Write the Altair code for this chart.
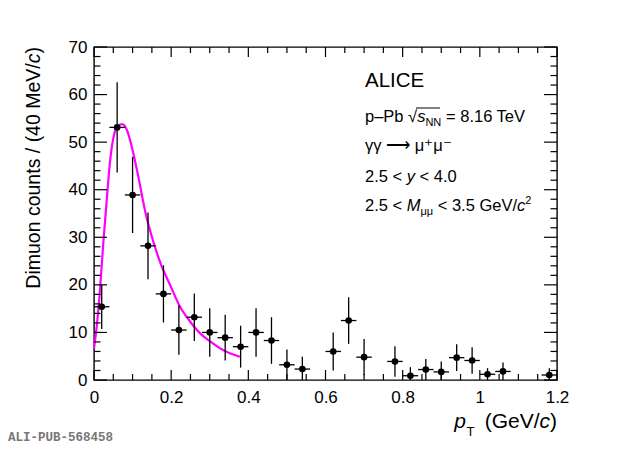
import altair as alt
import pandas as pd

# ---- data ----
pt = [0.02, 0.06, 0.10, 0.14, 0.18, 0.22, 0.26, 0.30, 0.34, 0.38, 0.42, 0.46, 0.50, 0.54,
      0.62, 0.66, 0.70, 0.78, 0.82, 0.86, 0.90, 0.94, 0.98, 1.02, 1.06, 1.18]
counts = [15.4, 53.1, 38.9, 28.2, 18.1, 10.5, 13.2, 10.0, 8.9, 7.0, 10.0, 8.3, 3.2, 2.3,
          6.0, 12.5, 4.8, 3.9, 0.9, 2.2, 1.7, 4.7, 4.1, 1.2, 1.8, 1.05]
errs = [4.7, 9.5, 8.0, 7.0, 6.0, 5.2, 5.0, 5.1, 4.8, 4.4, 5.1, 4.9, 3.2, 2.6,
        4.0, 4.9, 3.8, 3.2, 1.8, 2.2, 2.2, 2.8, 2.8, 1.3, 1.9, 1.4]

curve_pt = [0.0, 0.007, 0.0155, 0.024, 0.033, 0.041, 0.050, 0.060, 0.073, 0.085, 0.098,
            0.115, 0.132, 0.154, 0.175, 0.197, 0.223, 0.249, 0.275, 0.301, 0.326, 0.352, 0.378]
curve_val = [6.6, 11.2, 18.9, 28.7, 37.8, 45.5, 50.8, 53.2, 53.8, 52.6, 49.0,
             42.7, 35.7, 29.0, 24.0, 20.0, 15.4, 12.3, 9.8, 8.1, 6.7, 5.6, 4.9]

x_major = [0, 0.2, 0.4, 0.6, 0.8, 1.0, 1.2]
x_minor = [0.05, 0.1, 0.15, 0.25, 0.3, 0.35, 0.45, 0.5, 0.55, 0.65, 0.7, 0.75,
           0.85, 0.9, 0.95, 1.05, 1.1, 1.15]
y_major = [0, 10, 20, 30, 40, 50, 60, 70]
y_minor = [2, 4, 6, 8, 12, 14, 16, 18, 22, 24, 26, 28, 32, 34, 36, 38, 42, 44, 46, 48,
           52, 54, 56, 58, 62, 64, 66, 68]

W, H = 463, 333
FONT = "Liberation Sans"

df = pd.DataFrame({"pt": pt, "n": counts, "err": errs})
df["lo"] = (df["n"] - df["err"]).clip(lower=0)
df["hi"] = df["n"] + df["err"]
df["xl"] = df["pt"] - 0.02
df["xr"] = df["pt"] + 0.02
cdf = pd.DataFrame({"pt": curve_pt, "v": curve_val})

xs = alt.Scale(domain=[0, 1.2], nice=False, zero=False)
ys = alt.Scale(domain=[0, 70], nice=False)
xaxis = alt.Axis(values=x_major, format="~g", title=None, ticks=False, domain=False, grid=False,
                 labelFont=FONT, labelFontSize=17, labelPadding=9, labelFlush=False,
                 labelColor="black", labelOverlap=False)
yaxis = alt.Axis(values=y_major, format="d", title=None, ticks=False, domain=False, grid=False,
                 labelFont=FONT, labelFontSize=17, labelPadding=7, labelFlush=False,
                 labelColor="black", labelOverlap=False)


def X(f):
    return alt.X(f, type="quantitative", scale=xs, axis=xaxis)


def Y(f):
    return alt.Y(f, type="quantitative", scale=ys, axis=yaxis)


base = alt.Chart(df)
vbar = base.mark_rule(color="black", strokeWidth=1.3).encode(x=X("pt"), y=Y("lo"), y2="hi")
hbar = base.mark_rule(color="black", strokeWidth=1.3).encode(x=X("xl"), x2="xr", y=Y("n"))
pts = base.mark_circle(color="black", opacity=1, size=44).encode(x=X("pt"), y=Y("n"))
curve = alt.Chart(cdf).mark_line(color="#ff00ff", strokeWidth=2.2, interpolate="monotone").encode(
    x=X("pt"), y=Y("v"))

ticks = []
for vals, ln in [(x_major, 10), (x_minor, 6)]:
    d = alt.Chart(pd.DataFrame({"t": vals}))
    ticks.append(d.mark_rule(color="black", strokeWidth=1.2).encode(
        x=X("t"), y=alt.value(H), y2=alt.value(H - ln)))
    ticks.append(d.mark_rule(color="black", strokeWidth=1.2).encode(
        x=X("t"), y=alt.value(0), y2=alt.value(ln)))
for vals, ln in [(y_major, 13), (y_minor, 6.5)]:
    d = alt.Chart(pd.DataFrame({"t": vals}))
    ticks.append(d.mark_rule(color="black", strokeWidth=1.2).encode(
        y=Y("t"), x=alt.value(0), x2=alt.value(ln)))
    ticks.append(d.mark_rule(color="black", strokeWidth=1.2).encode(
        y=Y("t"), x=alt.value(W), x2=alt.value(W - ln)))

one = pd.DataFrame({"a": [0]})


def txt(x, y, s, size, italic=False, align="left", angle=0, color="black", font=FONT, weight="normal"):
    kw = dict(align=align, baseline="alphabetic", fontSize=size, font=font, color=color,
              fontWeight=weight)
    if italic:
        kw["fontStyle"] = "italic"
    if angle:
        kw["angle"] = angle
    return alt.Chart(one).mark_text(**kw).encode(x=alt.value(x), y=alt.value(y), text=alt.value(s))


texts = [
    # y-axis title (rotated)
    txt(-54, 0, ")", 19.5, align="right", angle=270),
    txt(-54, 6.5, "c", 19.5, italic=True, align="right", angle=270),
    txt(-54, 16.25, "Dimuon counts / (40 MeV/", 19.5, align="right", angle=270),
    # x-axis title
    txt(372, 380.5, "p", 21, italic=True, align="right"),
    txt(372.5, 389, "T", 13),
    txt(445.6, 380.5, "(GeV/", 21, align="right"),
    txt(456, 380.5, "c", 21, italic=True, align="right"),
    txt(463, 380.5, ")", 21, align="right"),
    # legend block
    txt(271, 40, "ALICE", 20.5),
    txt(271, 75, "p\u2013Pb", 16.5),
    txt(314.1, 75, "\u221a", 16.5),
    txt(323.2, 75, "s", 16.5, italic=True),
    txt(331.4, 79, "NN", 11),
    txt(352, 75, "= 8.16 TeV", 16.5),
    txt(271, 104, "\u03b3\u03b3 \u27f6 \u03bc\u207a\u03bc\u207b", 16.5),
    txt(271, 135, "2.5 <", 16.5),
    txt(312.7, 135, "y", 16.5, italic=True),
    txt(325.6, 135, "< 4.0", 16.5),
    txt(271, 164, "2.5 <", 16.5),
    txt(312.7, 164, "M", 16.5, italic=True),
    txt(326.4, 168, "\u03bc\u03bc", 11),
    txt(343.7, 164, "< 3.5 GeV/", 16.5),
    txt(423, 164, "c", 16.5, italic=True),
    txt(431.3, 157, "2", 11),
    # footer
    txt(-86, 394, "ALI-PUB-568458", 12.5, color="#777777", font="Liberation Mono", weight="bold"),
]

overline = alt.Chart(one).mark_rule(color="black", strokeWidth=1).encode(
    x=alt.value(322), x2=alt.value(346), y=alt.value(61))

chart = alt.layer(curve, vbar, hbar, pts, *ticks, overline, *texts).properties(
    width=W, height=H,
    autosize=alt.AutoSizeParams(type="none"),
    padding={"left": 86, "top": 39, "right": 55, "bottom": 68},
    background="white",
).configure_view(stroke="black", strokeWidth=1.4)

chart.save("out.html", embed_options={"renderer": "svg", "actions": False})
